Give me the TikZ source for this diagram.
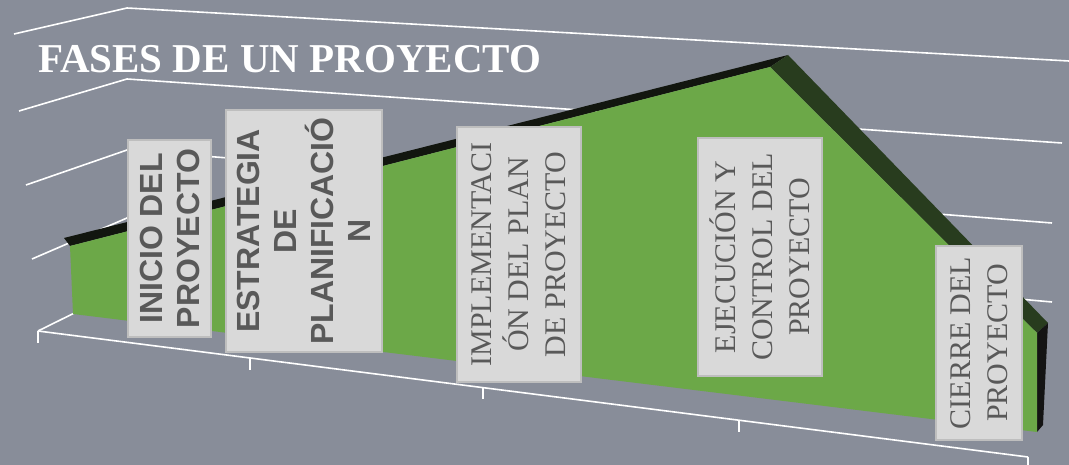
\documentclass[tikz,border=0pt]{standalone}
\usepackage{fontspec}
\newfontfamily\labsans{Liberation Sans}
\newfontfamily\labserif{Liberation Serif}
\definecolor{bggray}{RGB}{136,141,153}
\definecolor{grfront}{RGB}{108,168,72}
\definecolor{grside}{RGB}{40,60,30}
\definecolor{grtop}{RGB}{18,22,15}
\definecolor{boxfill}{RGB}{217,217,217}
\definecolor{boxline}{RGB}{190,190,190}
\definecolor{boxtext}{RGB}{89,89,89}
\tikzset{
  gridline/.style={white, line width=1.6pt},
  phase/.style={draw=boxline, line width=1.5pt, fill=boxfill, text=boxtext, rotate=90, align=center, inner sep=0pt},
  sanslab/.style={font=\labsans\bfseries\fontsize{32}{37}\selectfont},
  seriflab/.style={font=\labserif\fontsize{30}{37}\selectfont},
}
\begin{document}
\begin{tikzpicture}[x=1pt,y=-1pt]
\useasboundingbox (0,0) rectangle (1069,465);
\fill[bggray] (0,0) rectangle (1069,465);
% wall gridlines
\draw[gridline] (14,34) -- (127,8) -- (1069,61);
\draw[gridline] (19,111) -- (127,79) -- (1062,143);
\draw[gridline] (26,185) -- (127,150) -- (1052,223);
\draw[gridline] (32,259) -- (127,218) -- (1052,302);
\draw[gridline] (38,331) -- (127,287) -- (1044,382);
% floor front edge and ticks
\draw[gridline] (38,331) -- (1028,457);
\foreach \x/\y in {38/331, 250/358, 483/387, 739/420, 1028/457}
  \draw[gridline] (\x,\y) -- (\x,\y+12);
% 3D area
\fill[grtop] (64,238) -- (788,55) -- (770,67) -- (70,246) -- cycle;
\fill[grside] (770,67) -- (788,55) -- (1048,323) -- (1037,333) -- cycle;
\fill[black!92] (1037,333) -- (1048,323) -- (1043,425) -- (1037,432) -- cycle;
\fill[grfront] (70,246) -- (770,67) -- (1037,333) -- (1037,432) -- (73,314) -- cycle;
% title
\node[anchor=base west, text=white, font=\labserif\bfseries\fontsize{41}{41}\selectfont, inner sep=0pt] (title) at (38,73) {FASES DE UN PROYECTO};
% phases
\node[phase, sanslab, minimum width=197pt, minimum height=83pt] (inicio) at (169.5,238.5) {INICIO DEL\\PROYECTO};
\node[phase, sanslab, minimum width=242pt, minimum height=156pt] (estrategia) at (304,231) {ESTRATEGIA\\DE\\PLANIFICACIÓ\\N};
\node[phase, seriflab, minimum width=255pt, minimum height=124pt] (implementacion) at (519,254.5) {IMPLEMENTACI\\ÓN DEL PLAN\\DE PROYECTO};
\node[phase, seriflab, minimum width=238pt, minimum height=124pt] (ejecucion) at (760,257) {EJECUCIÓN Y\\CONTROL DEL\\PROYECTO};
\node[phase, seriflab, minimum width=194pt, minimum height=86pt] (cierre) at (979,343) {CIERRE DEL\\PROYECTO};
\end{tikzpicture}
\end{document}
